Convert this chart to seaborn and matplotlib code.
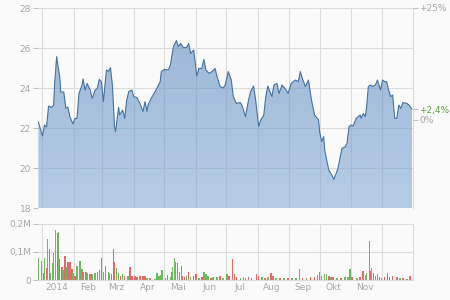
import numpy as np
import pandas as pd
import matplotlib
matplotlib.use("Agg")
import matplotlib.pyplot as plt
import matplotlib.dates as mdates
from matplotlib.colors import LinearSegmentedColormap
import seaborn as sns

# ---------------- data ----------------
# days since 2014-01-01 and closing price (EUR)
price_day = [-4, 0, 2, 4, 6, 9, 11, 12, 14, 15, 17, 18, 21, 23, 25, 27, 30, 32, 34, 36,
             39, 40, 42, 44, 47, 49, 52, 54, 56, 58, 60, 63, 65, 67, 69, 71, 72, 75, 76, 79,
             81, 83, 85, 88, 90, 93, 96, 99, 101, 103, 104, 108, 111, 113, 116, 117, 120, 124, 126, 129,
             132, 134, 136, 139, 142, 144, 146, 149, 150, 152, 154, 157, 159, 161, 164, 167, 170, 172, 175, 178,
             180, 183, 186, 188, 191, 195, 197, 200, 203, 205, 208, 210, 213, 215, 218, 220, 222, 226, 228, 231,
             233, 236, 240, 242, 245, 249, 252, 254, 256, 259, 262, 265, 268, 272, 273, 275, 277, 278, 282, 285,
             287, 290, 291, 293, 295, 298, 300, 302, 304, 306, 309, 311, 313, 314, 316, 318, 319, 321, 323, 325,
             328, 330, 333, 335, 337, 339, 341, 343, 345, 347, 349, 351, 353, 355, 359, 361, 364]
price = [22.3, 21.6, 22.15, 22.05, 23.1, 23.03, 23.15, 24.25, 25.57, 25.2, 24.57, 23.8, 23.8, 22.98, 23.05, 22.57, 22.2, 22.48, 22.48, 23.73,
         24.15, 24.45, 23.9, 24.23, 23.9, 23.48, 23.9, 23.98, 24.43, 24.32, 23.32, 24.9, 24.83, 25.02, 24.07, 22.07, 21.82, 23.03, 22.65, 22.9,
         22.48, 23.4, 23.82, 23.9, 23.57, 23.52, 23.23, 22.82, 23.32, 22.82, 23.15, 23.57, 23.82, 24.02, 24.32, 24.82, 24.93, 24.9, 25.15, 26.07,
         26.37, 26.07, 26.23, 26.02, 26.03, 26.23, 25.73, 25.9, 25.48, 24.6, 24.98, 24.98, 25.43, 24.9, 24.73, 24.82, 24.98, 24.57, 24.07, 24.0,
         24.15, 24.82, 24.4, 23.57, 23.23, 23.27, 23.07, 22.57, 23.4, 23.82, 24.1, 23.4, 22.07, 22.4, 22.65, 23.57, 24.1, 23.57, 24.15, 24.23,
         23.73, 24.15, 23.9, 23.73, 24.23, 24.4, 24.32, 24.82, 24.48, 24.07, 24.4, 23.4, 22.65, 22.4, 21.82, 21.32, 21.57, 20.9, 19.9, 19.65,
         19.43, 19.82, 19.97, 20.48, 20.98, 21.05, 21.23, 22.07, 22.15, 22.1, 22.48, 22.57, 22.65, 22.48, 22.73, 22.57, 22.9, 24.07, 24.15, 24.07,
         24.15, 24.4, 23.9, 24.4, 24.32, 24.32, 23.9, 23.57, 23.65, 22.48, 22.48, 23.15, 22.98, 23.27, 23.23, 23.15, 22.94]
base_price = 22.4  # reference price for the % axis

# volume: days since 2014-01-01, volume in millions, 1 = up day (green) / 0 = down day (red)
vol_day = [-4, -1, 1, 2, 4, 5, 7, 8, 10, 11, 13, 15, 16, 17, 19, 20, 22, 24, 25, 27,
           29, 30, 32, 34, 37, 39, 40, 43, 44, 47, 49, 52, 54, 56, 58, 60, 62, 65, 66, 68,
           70, 71, 73, 75, 77, 79, 81, 84, 86, 88, 91, 93, 96, 99, 101, 103, 106, 111, 113, 115,
           117, 118, 121, 123, 126, 127, 128, 130, 131, 133, 135, 137, 138, 140, 142, 144, 146, 149, 151, 154,
           157, 159, 161, 163, 166, 168, 172, 175, 178, 182, 184, 187, 189, 191, 195, 198, 200, 203, 206, 211,
           213, 216, 219, 222, 225, 227, 230, 234, 238, 242, 246, 250, 253, 256, 260, 264, 268, 271, 273, 275,
           278, 280, 282, 284, 286, 290, 294, 298, 301, 303, 305, 310, 313, 316, 318, 319, 322, 323, 324, 326,
           328, 330, 332, 334, 337, 340, 342, 345, 349, 352, 355, 359, 362]
vol_m = [0.08, 0.069, 0.025, 0.079, 0.043, 0.145, 0.11, 0.025, 0.06, 0.095, 0.178, 0.169, 0.172, 0.074, 0.048, 0.034, 0.087, 0.047, 0.065, 0.063,
         0.04, 0.025, 0.015, 0.05, 0.069, 0.04, 0.03, 0.027, 0.024, 0.02, 0.02, 0.025, 0.03, 0.036, 0.08, 0.028, 0.05, 0.03, 0.025, 0.02,
         0.11, 0.065, 0.042, 0.025, 0.015, 0.02, 0.015, 0.015, 0.047, 0.015, 0.013, 0.01, 0.015, 0.015, 0.015, 0.008, 0.006, 0.005, 0.025, 0.015,
         0.018, 0.035, 0.006, 0.018, 0.012, 0.03, 0.047, 0.08, 0.063, 0.06, 0.03, 0.05, 0.015, 0.01, 0.015, 0.027, 0.012, 0.015, 0.02, 0.008,
         0.012, 0.03, 0.022, 0.015, 0.008, 0.012, 0.012, 0.015, 0.006, 0.02, 0.015, 0.075, 0.02, 0.012, 0.008, 0.01, 0.008, 0.01, 0.008, 0.02,
         0.015, 0.01, 0.008, 0.01, 0.025, 0.015, 0.008, 0.006, 0.006, 0.008, 0.006, 0.008, 0.04, 0.006, 0.008, 0.01, 0.012, 0.018, 0.027, 0.015,
         0.02, 0.02, 0.015, 0.012, 0.012, 0.006, 0.008, 0.01, 0.012, 0.04, 0.012, 0.008, 0.012, 0.033, 0.018, 0.025, 0.14, 0.033, 0.043, 0.025,
         0.015, 0.022, 0.01, 0.008, 0.012, 0.025, 0.012, 0.015, 0.012, 0.008, 0.008, 0.005, 0.015]
vol_up = [1, 1, 0, 1, 0, 1, 0, 1, 1, 1, 1, 0, 1, 0, 0, 1, 0, 1, 0, 0,
          0, 1, 0, 1, 1, 1, 0, 0, 1, 0, 1, 1, 0, 0, 0, 1, 1, 1, 1, 0,
          0, 0, 1, 1, 0, 1, 0, 1, 0, 0, 0, 0, 0, 0, 0, 1, 0, 1, 1, 1,
          1, 1, 0, 0, 1, 0, 1, 1, 1, 0, 0, 1, 0, 0, 1, 0, 1, 0, 0, 1,
          0, 1, 1, 1, 0, 1, 1, 0, 1, 1, 0, 0, 0, 0, 1, 1, 1, 0, 1, 0,
          0, 1, 0, 1, 0, 0, 1, 0, 1, 0, 1, 1, 1, 0, 1, 0, 0, 0, 0, 0,
          1, 1, 0, 1, 0, 1, 0, 1, 1, 1, 0, 1, 0, 0, 1, 1, 1, 0, 1, 0,
          1, 1, 0, 1, 0, 0, 0, 0, 0, 1, 0, 0, 0]

month_labels = ["2014", "Feb", "Mrz", "Apr", "Mai", "Jun", "Jul", "Aug", "Sep", "Okt", "Nov"]
price_ticks = [18, 20, 22, 24, 26, 28]
vol_ticks = [0, 0.1, 0.2]
vol_tick_labels = ["0", "0,1M", "0,2M"]

assert len(price_day) == len(price)
assert len(vol_day) == len(vol_m) == len(vol_up)

# ---------------- style ----------------
sns.set_theme(style="white")
plt.rcParams["font.family"] = ["DejaVu Sans"]
BG = "#fafafa"
GRID = "#dcdcdc"
TXT = "#a8a8a8"
GREEN_TXT = "#5b9e48"
LINE = "#46739f"
FS = 6.5

base = pd.Timestamp("2014-01-01")
df = pd.DataFrame({"date": base + pd.to_timedelta(price_day, unit="D"), "price": price})
dv = pd.DataFrame({"date": base + pd.to_timedelta(vol_day, unit="D"), "vol": vol_m, "up": vol_up})

fig = plt.figure(figsize=(4.5, 3), dpi=100, facecolor=BG)
L, R = 38 / 450, 413 / 450
ax = fig.add_axes([L, 1 - 208 / 300, R - L, 200 / 300], facecolor=BG)
axv = fig.add_axes([L, 1 - 280 / 300, R - L, 56 / 300], facecolor=BG)

x0 = base - pd.Timedelta(days=4.4)
x1 = base + pd.Timedelta(days=365)
month_starts = pd.date_range("2014-01-01", "2014-12-01", freq="MS")
month_mid = month_starts[:11] + pd.Timedelta(days=14)

# ---------------- price panel ----------------
poly = ax.fill_between(df["date"], df["price"], 18, facecolor="none", lw=0)
clip_path = poly.get_paths()[0]
grad = np.linspace(0, 1, 256).reshape(-1, 1)
cmap = LinearSegmentedColormap.from_list("g", ["#5282b8", "#84acd8"])
im = ax.imshow(grad, extent=[mdates.date2num(x0), mdates.date2num(x1), 18, 28],
               aspect="auto", cmap=cmap, alpha=0.58, origin="upper", zorder=1)
im.set_clip_path(clip_path, transform=ax.transData)
sns.lineplot(data=df, x="date", y="price", color=LINE, lw=0.8, ax=ax, zorder=3)

ax.set_xlim(x0, x1)
ax.set_ylim(18, 28)
ax.set_yticks(price_ticks)
ax.set_yticklabels([str(t) for t in price_ticks])
ax.set_xticks(month_starts)
ax.set_xticklabels([])
ax.set_xlabel("")
ax.set_ylabel("")
ax.grid(True, color=GRID, lw=0.8, zorder=0)
ax.set_axisbelow(True)
ax.tick_params(axis="y", length=3.5, width=0.8, color="#c0c0c0", pad=1.5,
               labelsize=FS, labelcolor=TXT, left=True)
ax.tick_params(axis="x", length=0)
for s in ["top", "left", "bottom"]:
    ax.spines[s].set_visible(False)
ax.spines["right"].set_color(GRID)
ax.spines["right"].set_linewidth(0.8)

# right % axis
axr = ax.twinx()
axr.set_ylim((18 / base_price - 1) * 100, (28 / base_price - 1) * 100)
last_pct = (price[-1] / base_price - 1) * 100
axr.set_yticks([25, last_pct, 0])
axr.set_yticklabels(["+25%", "+" + f"{last_pct:.1f}".replace(".", ",") + "%", "0%"])
axr.tick_params(axis="y", length=3.5, width=0.8, color="#c0c0c0", pad=1.2,
                labelsize=FS, labelcolor=TXT, right=True)
axr.get_yticklabels()[1].set_color(GREEN_TXT)
axr.yaxis.get_major_ticks()[1].tick2line.set_color(GREEN_TXT)
for s in axr.spines.values():
    s.set_visible(False)
axr.grid(False)

# ---------------- volume panel ----------------
colors = ["#6fb85f" if u else "#e06a6a" for u in dv["up"]]
axv.bar(dv["date"], dv["vol"], width=1.5, color=colors, lw=0, zorder=2)
axv.set_xlim(x0, x1)
axv.set_ylim(0, 0.2)
axv.set_yticks(vol_ticks)
axv.set_yticklabels(vol_tick_labels)
axv.set_xticks(month_starts)
axv.set_xticklabels([])
axv.set_xticks(month_mid, minor=True)
axv.set_xticklabels(month_labels, minor=True)
axv.grid(True, which="major", color=GRID, lw=0.8, zorder=0)
axv.set_axisbelow(True)
axv.tick_params(axis="y", length=3.5, width=0.8, color="#c0c0c0", pad=1.5,
                labelsize=FS, labelcolor=TXT, left=True)
axv.tick_params(axis="x", which="both", length=0, pad=2, labelsize=FS, labelcolor=TXT)
for s in ["top", "left"]:
    axv.spines[s].set_visible(False)
axv.spines["bottom"].set_color(GRID)
axv.spines["right"].set_color(GRID)
axv.spines["bottom"].set_linewidth(0.8)
axv.spines["right"].set_linewidth(0.8)

fig.savefig("out.png", dpi=100, facecolor=BG)
